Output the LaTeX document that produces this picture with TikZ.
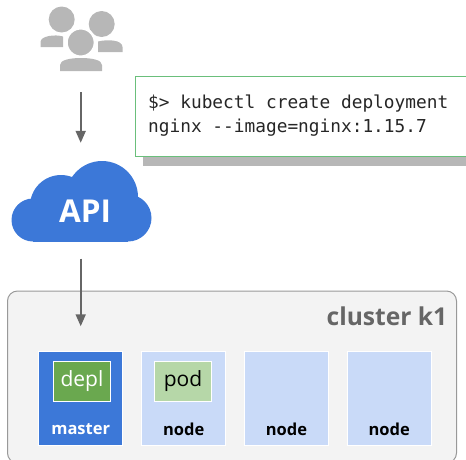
\documentclass[tikz,border=0pt]{standalone}
\usepackage{fontspec}
\setmainfont{Open Sans}
\setmonofont{DejaVu Sans Mono}
\usepackage{tikz}
\usetikzlibrary{arrows.meta}

\definecolor{usergray}{HTML}{B7B7B7}
\definecolor{arrowgray}{HTML}{666666}
\definecolor{cloudblue}{HTML}{3C78D8}
\definecolor{nodeblue}{HTML}{C9DAF8}
\definecolor{clusterbg}{HTML}{F3F3F3}
\definecolor{clusterline}{HTML}{999999}
\definecolor{codegreen}{HTML}{6ABF7B}
\definecolor{deplgreen}{HTML}{6AA84F}
\definecolor{podgreen}{HTML}{B6D7A8}

\tikzset{
    flow/.style={draw=arrowgray, line width=1.8pt, -{Triangle[width=10pt,length=12pt]}},
    workerbox/.style={draw=white, line width=0.5pt, inner sep=0pt, minimum width=84pt, minimum height=94pt},
    appbox/.style={draw=white, line width=0.8pt, inner sep=0pt, minimum width=57pt, minimum height=40pt,
        font=\fontsize{21}{24}\selectfont},
    boxlabel/.style={inner sep=0pt, font=\fontsize{16.5}{20}\selectfont\bfseries}
}

\begin{document}
\begin{tikzpicture}[x=1pt, y=-1pt]
    \clip (0,0) rectangle (466,459);

    % Users
    \fill[usergray] (40.5,47) -- (40.5,42) .. controls (40.5,36) and (55,34) .. (63,36.5) -- (63,47) -- cycle;
    \fill[usergray] (98,52) -- (98,41.5) .. controls (108,39) and (122.5,40) .. (122.5,47) -- (122.5,52) -- cycle;
    \fill[usergray] (60,71) -- (60,65) .. controls (60,60) and (70,58) .. (81,58) .. controls (92,58) and (102,60) .. (102,65) -- (102,71) -- cycle;
    \fill[usergray] (61.7,19.5) circle [radius=13];
    \fill[usergray] (101.7,24) circle [radius=13];
    \fill[usergray, draw=white, line width=2.5pt] (80.7,42.5) circle [radius=14.2];
    \node (users) at (80.7,45.5) [minimum width=84pt, minimum height=51pt, inner sep=0pt] {};

    % API cloud
    \fill[cloudblue] (33,220) circle [radius=21.5];
    \fill[cloudblue] (61,206) circle [radius=31];
    \fill[cloudblue] (102,197) circle [radius=36];
    \fill[cloudblue] (128,218) circle [radius=23.5];
    \fill[cloudblue] (33,206) rectangle (128,241.5);
    \node (api) at (81.5,201.25) [minimum width=139pt, minimum height=80.5pt, inner sep=0pt] {};
    \node (apilabel) at (85,211) [text=white, font=\fontsize{31.5}{36}\selectfont\bfseries] {API};

    % Command box with its shadow
    \fill[usergray] (143,156) rectangle (470,166);
    \draw[codegreen, fill=white, line width=1pt] (135,76) rectangle (475,156);
    \node (command) at (148,115.5) [anchor=west, inner sep=0pt, align=left, text=black!85,
        font=\fontsize{17.8}{24}\ttfamily] {\$> kubectl create deployment\\nginx -{}-image=nginx:1.15.7};

    % Cluster
    \draw[clusterline, fill=clusterbg, line width=1pt, rounded corners=10pt] (7.5,291) rectangle (456.5,463);
    \node (cluster) at (447.5,316) [anchor=east, inner sep=0pt, text=arrowgray,
        font=\fontsize{24.6}{30}\selectfont\bfseries] {cluster k1};

    % Master and nodes
    \node (master) at (80.7,398.5) [workerbox, fill=cloudblue] {};
    \node (node1) at (183.7,398.5) [workerbox, fill=nodeblue] {};
    \node (node2) at (286.5,398.5) [workerbox, fill=nodeblue] {};
    \node (node3) at (389.2,398.5) [workerbox, fill=nodeblue] {};

    % Labels
    \node (masterlabel) at (80.7,429.5) [boxlabel, text=white] {master};
    \node (nodelabel1) at (183.7,429.5) [boxlabel] {node};
    \node (nodelabel2) at (286.5,429.5) [boxlabel] {node};
    \node (nodelabel3) at (389.2,429.5) [boxlabel] {node};

    % Deployment and pod
    \node (depl) at (82,381) [appbox, fill=deplgreen, text=white] {\raisebox{-2pt}{depl}};
    \node (pod) at (183,381) [appbox, fill=podgreen] {\raisebox{-2pt}{pod}};

    % Arrows
    \draw[flow, shorten <=21pt, shorten >=18pt] (users.south) -- (users.south |- api.north);
    \draw[flow, shorten <=17pt, shorten >=25pt] (master.north |- api.south) -- (master.north);
\end{tikzpicture}
\end{document}
